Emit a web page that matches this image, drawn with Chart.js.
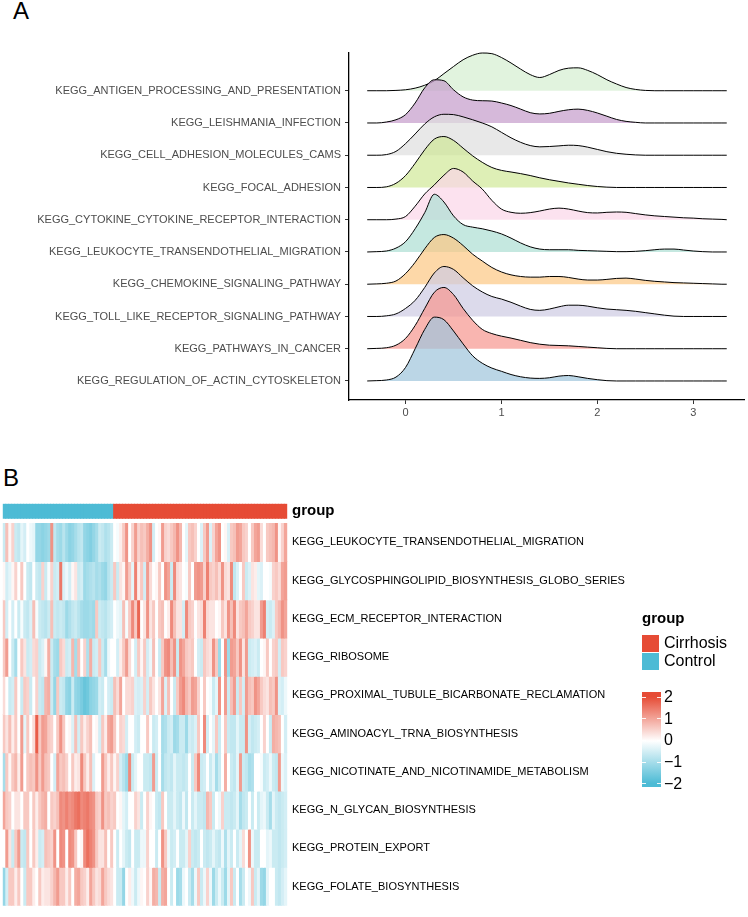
<!DOCTYPE html>
<html><head><meta charset="utf-8">
<script src="https://cdn.jsdelivr.net/npm/chart.js@4.4.1/dist/chart.umd.min.js"></script>
<style>
html,body{margin:0;padding:0;background:#fff;width:748px;height:917px;overflow:hidden;font-family:"Liberation Sans",Arial,sans-serif;}
.abs{position:absolute;white-space:nowrap;}
#wrapA{position:absolute;left:0;top:0;width:748px;height:440px;}
#wrapB{position:absolute;left:0;top:490px;width:748px;height:427px;}
</style></head>
<body>
<div class="abs" style="left:13px;top:-3px;font-size:24px;color:#000;">A</div>
<div class="abs" style="left:3px;top:464px;font-size:24px;color:#000;">B</div>
<div id="wrapA"><canvas id="cA" width="748" height="440"></canvas></div>
<div id="wrapB"><canvas id="cB" width="748" height="427"></canvas></div>

<!-- heatmap legends -->
<div class="abs" style="left:642px;top:609px;font-size:15px;font-weight:bold;color:#000;">group</div>
<div class="abs" style="left:642px;top:635px;width:17px;height:17px;background:#E64B35;"></div>
<div class="abs" style="left:642px;top:653px;width:17px;height:17px;background:#4DBBD5;"></div>
<div class="abs" style="left:664px;top:634px;font-size:16px;color:#000;line-height:18px;">Cirrhosis</div>
<div class="abs" style="left:664px;top:652px;font-size:16px;color:#000;line-height:18px;">Control</div>
<div class="abs" style="left:642px;top:692px;width:19px;height:95px;background:linear-gradient(to bottom,#E64B35 0%,#E64B35 5%,#ffffff 51.5%,#4DBBD5 96%,#4DBBD5 100%);"></div>
<div id="cbTicks"></div>

<script>
// ---------------- Panel A data ----------------
const ridgeCategories = [
  "KEGG_REGULATION_OF_ACTIN_CYTOSKELETON",
  "KEGG_PATHWAYS_IN_CANCER",
  "KEGG_TOLL_LIKE_RECEPTOR_SIGNALING_PATHWAY",
  "KEGG_CHEMOKINE_SIGNALING_PATHWAY",
  "KEGG_LEUKOCYTE_TRANSENDOTHELIAL_MIGRATION",
  "KEGG_CYTOKINE_CYTOKINE_RECEPTOR_INTERACTION",
  "KEGG_FOCAL_ADHESION",
  "KEGG_CELL_ADHESION_MOLECULES_CAMS",
  "KEGG_LEISHMANIA_INFECTION",
  "KEGG_ANTIGEN_PROCESSING_AND_PRESENTATION"
];
const ridgeX = [-0.4,-0.3,-0.2,-0.1,0,0.1,0.2,0.3,0.4,0.5,0.6,0.7,0.8,0.9,1.0,1.1,1.2,1.3,1.4,1.5,1.6,1.7,1.8,1.9,2.0,2.1,2.2,2.3,2.4,2.5,2.6,2.7,2.8,2.9,3.0,3.1,3.2,3.3,3.35];
const densRegulation = [0,0.01,0.03,0.12,0.42,1.0,1.6,1.98,1.9,1.55,1.15,0.78,0.55,0.4,0.3,0.2,0.13,0.09,0.08,0.1,0.15,0.17,0.13,0.08,0.04,0.01,0,0,0,0,0,0,0,0,0,0,0,0,0];
const densPathways = [0,0.01,0.03,0.11,0.32,0.72,1.25,1.75,1.9,1.68,1.25,0.88,0.6,0.47,0.39,0.33,0.26,0.19,0.14,0.11,0.1,0.09,0.07,0.05,0.03,0.01,0,0,0,0,0,0,0,0,0,0,0,0,0];
const densToll = [0,0,0.02,0.08,0.25,0.5,0.9,1.35,1.55,1.46,1.2,0.95,0.76,0.62,0.54,0.44,0.32,0.22,0.19,0.23,0.3,0.35,0.35,0.32,0.27,0.23,0.21,0.19,0.16,0.12,0.08,0.04,0.01,0,0,0,0,0,0];
const densChemokine = [0,0.01,0.03,0.1,0.33,0.68,1.1,1.45,1.54,1.43,1.2,0.93,0.72,0.52,0.38,0.29,0.24,0.22,0.22,0.24,0.24,0.21,0.16,0.13,0.13,0.15,0.18,0.19,0.16,0.12,0.09,0.07,0.05,0.04,0.03,0.02,0.01,0,0];
const densLeukocyte = [0,0.01,0.03,0.12,0.32,0.72,1.22,1.79,1.55,1.12,0.85,0.77,0.72,0.65,0.56,0.43,0.28,0.16,0.09,0.07,0.07,0.07,0.05,0.04,0.03,0.02,0.01,0.01,0.02,0.04,0.07,0.09,0.09,0.06,0.03,0.01,0,0,0];
const densCytokine = [0,0,0,0.02,0.1,0.42,0.8,1.08,1.38,1.59,1.48,1.2,0.95,0.6,0.33,0.23,0.2,0.22,0.27,0.33,0.36,0.33,0.27,0.22,0.21,0.23,0.24,0.23,0.19,0.15,0.12,0.1,0.08,0.06,0.05,0.03,0.02,0.01,0];
const densFocal = [0,0,0.02,0.13,0.37,0.75,1.17,1.5,1.58,1.46,1.22,0.98,0.78,0.62,0.53,0.48,0.43,0.37,0.3,0.24,0.19,0.14,0.1,0.06,0.03,0.01,0,0,0,0,0,0,0,0,0,0,0,0,0];
const densCellAdhesion = [0,0,0.02,0.12,0.36,0.66,0.97,1.19,1.27,1.26,1.19,1.1,1.0,0.88,0.71,0.54,0.4,0.3,0.26,0.27,0.29,0.31,0.3,0.25,0.18,0.11,0.06,0.03,0.01,0,0,0,0,0,0,0,0,0,0];
const densLeishmania = [0,0,0.03,0.1,0.26,0.62,1.09,1.34,1.31,1.03,0.81,0.71,0.69,0.68,0.62,0.54,0.43,0.32,0.28,0.3,0.36,0.41,0.43,0.39,0.31,0.21,0.11,0.05,0.02,0,0,0,0,0,0,0,0,0,0];
const densAntigen = [0,0,0,0.01,0.03,0.08,0.17,0.31,0.53,0.75,0.96,1.1,1.17,1.15,1.03,0.86,0.67,0.5,0.41,0.5,0.63,0.7,0.71,0.63,0.5,0.34,0.21,0.1,0.04,0.01,0,0,0,0,0,0,0,0,0];
const ridgeXTicks = [0,1,2,3];
const ridgeFills = [
  "rgba(158,196,220,0.7)","rgba(247,149,142,0.7)","rgba(205,202,226,0.7)","rgba(252,199,131,0.7)",
  "rgba(172,222,211,0.7)","rgba(251,214,232,0.7)","rgba(206,232,148,0.68)","rgba(222,222,222,0.7)",
  "rgba(196,155,202,0.7)","rgba(212,238,208,0.7)"
];

// ---------------- Panel B data ----------------
const heatRows = [
  "KEGG_LEUKOCYTE_TRANSENDOTHELIAL_MIGRATION",
  "KEGG_GLYCOSPHINGOLIPID_BIOSYNTHESIS_GLOBO_SERIES",
  "KEGG_ECM_RECEPTOR_INTERACTION",
  "KEGG_RIBOSOME",
  "KEGG_PROXIMAL_TUBULE_BICARBONATE_RECLAMATION",
  "KEGG_AMINOACYL_TRNA_BIOSYNTHESIS",
  "KEGG_NICOTINATE_AND_NICOTINAMIDE_METABOLISM",
  "KEGG_N_GLYCAN_BIOSYNTHESIS",
  "KEGG_PROTEIN_EXPORT",
  "KEGG_FOLATE_BIOSYNTHESIS"
];
const groupCounts = [["Control",37],["Cirrhosis",58]];
const rowLeukocyte = [-0.6,0.7,0.1,0.5,-0.6,-0.7,-0.3,-0.5,0.0,-0.2,-0.3,-1.2,-1.2,-1.3,-1.2,-1.1,1.2,-0.7,-1.0,-1.1,-0.8,-1.1,-1.3,-1.2,-1.0,-0.8,-0.7,-1.2,-1.3,-1.4,-1.2,-1.0,-0.6,-0.7,-0.9,-0.8,-0.6,
  0.0,-0.1,0.2,0.6,1.2,0.0,0.5,1.1,0.5,0.7,
  0.6,0.9,1.2,-0.5,0.0,0.1,1.1,0.5,0.4,0.6,0.8,1.2,0.8,0.0,-0.3,0.6,0.7,0.5,0.0,-0.4,0.6,1.1,-0.4,0.5,1.0,1.2,0.0,0.1,-0.4,0.6,0.7,1.1,1.0,0.6,0.5,0.0,0.6,1.0,1.1,0.4,0.0,0.6,0.7,0.8,1.2,0.1,0.5,1.0];
const rowGlyco = [0.1,-0.5,-0.3,0.1,0.5,0.0,0.6,0.0,-0.6,-0.7,0.0,-0.6,-0.7,0.5,-0.6,-0.1,0.5,-0.6,-0.5,1.5,-0.4,-0.2,-0.5,0.1,0.3,-0.6,-0.5,-1.1,-1.0,-0.9,-0.8,-1.0,-0.9,-1.1,-1.2,-0.8,-0.6,
  0.6,-0.6,0.3,0.1,1.1,0.6,-0.3,1.4,0.2,0.6,
  -0.5,1.1,0.4,0.0,0.1,0.6,0.0,1.2,1.0,-0.6,1.3,0.4,0.3,0.0,-0.1,0.6,0.0,1.1,1.2,1.1,0.5,1.4,0.6,0.5,0.7,0.4,1.2,0.4,0.3,1.3,-0.7,-0.4,0.0,0.6,-0.6,-0.4,0.3,0.2,-0.3,-0.4,0.0,0.0,-0.1,0.5,0.6,0.4,1.0,1.1];
const rowEcm = [0.6,-0.5,0.0,-0.5,0.0,-0.6,-0.1,-0.6,-0.7,-0.4,0.7,-0.1,-0.6,-0.7,-0.8,-0.6,0.7,-0.6,-0.7,-0.6,-0.7,-1.1,-0.9,-0.7,-0.6,-0.8,-1.0,-1.1,-1.1,-1.0,-1.1,0.6,-0.6,-0.7,-0.8,-0.6,-0.5,
  0.0,-0.2,-0.3,0.7,-0.1,0.6,1.3,0.6,1.7,0.0,
  0.3,1.2,0.3,0.6,0.0,0.6,0.7,0.0,0.2,1.3,0.7,0.3,0.3,-0.5,1.3,0.6,0.5,0.0,0.3,0.4,1.4,0.4,0.3,0.3,0.0,0.1,0.6,0.3,1.2,0.7,1.3,0.3,0.6,0.7,1.0,0.6,0.5,0.3,0.3,1.1,1.4,-0.5,-0.6,-0.4,0.6,0.8,1.2,1.0];
const rowRibosome = [0.6,1.1,0.0,-0.6,-1.0,0.0,0.6,0.3,-0.6,-0.5,0.4,0.5,-0.6,-0.4,0.1,0.9,-0.6,-1.0,-1.1,0.6,0.4,-0.6,-0.5,0.8,-1.0,0.7,0.0,0.5,-0.9,0.9,-0.6,-0.5,0.6,-0.6,-1.0,-0.2,0.0,
  0.0,-0.5,0.2,0.6,1.1,0.4,0.0,-0.5,0.6,0.1,
  0.6,-0.5,-0.2,0.7,0.0,-0.6,0.6,1.2,1.3,0.7,1.2,-0.6,1.2,1.0,0.6,0.5,0.6,0.0,-0.5,-0.6,0.6,0.4,0.3,1.2,0.6,-1.1,0.0,1.2,-1.1,1.1,1.0,0.6,1.2,0.3,1.1,-0.6,-0.5,-0.4,-0.6,0.0,0.1,0.6,0.0,0.5,0.6,-0.5,0.6,0.5];
const rowProximal = [0.4,0.0,-0.6,-0.5,0.6,0.0,-0.6,0.6,0.5,-0.6,0.0,0.5,-0.6,-0.7,0.8,0.9,-0.6,-1.2,0.6,-0.6,-0.7,-1.2,-1.3,-0.6,-1.2,-1.3,-1.5,-1.7,-1.6,-1.3,-1.2,-1.1,-0.5,-0.6,0.0,-0.5,-0.6,
  0.7,0.4,1.0,0.0,0.4,0.4,0.5,-0.4,-0.5,-0.4,
  0.5,-0.5,0.6,0.3,0.0,0.3,1.0,-0.4,0.7,0.0,-0.6,0.6,1.1,1.3,0.8,0.6,1.1,1.0,0.5,0.0,0.6,0.0,-0.1,-0.6,-0.3,1.2,0.0,1.1,-0.6,0.7,1.1,-0.6,0.6,-0.5,1.1,0.7,0.6,1.2,1.0,0.6,0.4,0.3,0.7,0.6,1.2,-0.4,-0.5,-0.2];
const rowAminoacyl = [0.6,0.3,0.7,0.2,0.6,0.0,1.1,-0.3,0.6,0.0,0.4,1.8,0.6,1.1,1.0,0.6,0.5,0.0,0.6,1.2,0.6,0.0,0.1,-0.4,0.7,-0.5,0.6,0.2,0.5,0.7,0.0,0.1,-0.5,0.6,0.2,1.0,1.1,
  0.6,0.0,0.5,0.4,-0.5,0.0,0.0,-0.5,-0.6,0.0,
  0.0,0.6,0.0,-0.6,-0.5,0.0,-1.0,-0.9,-0.6,-0.5,-1.1,-1.0,-0.6,-0.6,-1.1,-0.5,-0.6,-0.4,0.6,0.0,1.3,-0.5,0.0,-0.3,0.6,-0.6,0.0,0.6,-0.6,-0.7,-0.7,-0.3,-0.6,-0.6,1.2,-0.5,-0.7,-0.6,-0.5,0.0,0.5,0.0,-0.6,0.9,0.8,0.7,0.0,-0.5];
const rowNicotinate = [-1.0,0.6,0.1,0.6,0.8,0.2,1.1,0.0,0.6,0.7,0.6,1.2,0.6,1.1,0.7,0.6,0.0,-0.5,1.0,0.6,0.7,0.5,0.0,0.6,0.2,0.3,1.3,0.6,0.2,0.7,-0.4,0.0,0.0,1.1,0.6,0.2,0.6,
  0.1,0.5,-0.5,-0.8,-1.1,1.3,-0.6,-0.3,0.0,0.0,
  -0.6,-0.6,-0.7,1.1,-0.6,0.0,-1.0,-0.7,-0.6,-0.7,-0.3,-0.6,-0.6,-0.7,-0.6,0.0,-0.6,0.6,1.3,-0.6,-0.5,0.0,-0.6,-0.3,-1.0,-0.6,0.0,0.9,0.0,-0.6,-0.7,-0.3,1.1,-0.6,-0.7,-1.0,-0.9,0.0,0.0,-0.1,-0.6,-0.5,-0.2,-0.6,-0.7,1.1,-0.2,-0.4];
const rowNGlycan = [1.0,0.6,0.5,0.0,0.3,0.3,0.0,0.6,0.6,0.0,0.6,0.2,0.6,0.8,0.9,0.0,0.6,0.5,0.7,1.3,1.2,1.4,1.2,1.3,1.5,1.6,1.3,1.4,1.5,1.3,1.2,0.6,0.5,1.2,0.6,0.7,0.5,
  0.6,0.0,0.1,-0.3,-0.5,0.0,0.0,0.5,0.3,-0.6,
  0.0,0.5,0.1,0.0,-0.6,-0.7,0.6,0.0,-0.6,-0.6,-0.3,-0.6,-0.7,-0.2,-0.7,0.0,-0.6,-0.3,-0.6,-0.6,-0.7,0.8,0.6,-0.6,0.0,-0.2,0.5,-0.6,-0.6,-0.7,-0.6,-0.3,-1.0,-0.7,-0.6,0.0,-0.6,0.0,-0.6,-0.3,-0.2,-0.6,-1.0,-0.3,-0.6,-0.7,-0.6,-0.5];
const rowProteinExport = [0.0,1.1,0.3,-0.6,0.6,1.1,-0.6,-0.7,0.6,0.0,0.6,0.2,-0.6,-0.5,0.7,0.6,0.5,1.2,0.0,1.3,1.2,0.0,1.3,1.2,0.6,0.0,0.1,1.3,1.6,1.4,1.2,0.6,0.3,0.3,0.7,0.0,0.6,
  0.0,-0.6,0.0,-0.3,-0.6,-0.7,0.0,-0.6,-0.6,-0.2,
  -0.2,0.5,0.0,0.0,-0.6,0.0,1.2,0.6,-0.2,-0.6,-0.5,0.0,-0.6,-0.6,-0.3,0.5,-0.6,-0.7,-0.6,0.0,-0.6,-0.7,-0.6,-0.3,-0.6,-0.7,-0.2,-0.9,-0.3,-0.6,0.0,-0.6,-0.3,0.4,0.0,1.2,-0.2,-0.6,-0.6,0.0,0.0,-0.3,-0.2,-0.6,-0.6,-0.7,-0.6,-0.5];
const rowFolate = [-1.2,-0.5,0.6,0.6,0.2,0.6,0.0,-0.6,0.6,0.6,0.2,0.0,0.6,0.2,0.3,0.3,0.5,0.8,1.1,0.6,0.6,0.2,0.6,0.0,0.9,1.0,0.6,0.5,0.2,1.0,0.6,0.3,0.4,1.0,0.6,0.4,0.3,
  0.0,-0.6,-0.6,-1.2,0.0,0.2,-0.2,-0.6,-0.2,0.1,
  0.0,0.5,0.1,0.9,0.8,-0.6,0.9,1.0,0.0,-0.6,0.0,-1.1,-1.0,-0.2,0.0,-0.6,-1.0,-0.2,0.6,-0.6,-0.2,0.5,-0.2,-1.1,-0.6,-0.2,-0.6,-1.1,-0.3,0.6,-0.6,0.0,-1.0,-0.6,0.0,-0.2,0.6,-0.6,-0.3,-1.1,-1.2,-0.3,0.0,0.0,-0.6,-0.7,-0.5,-0.3];
const colorbarTicks = [2,1,0,-1,-2];

// ---------------- Common ----------------
Chart.defaults.font.family = '"Liberation Sans", Arial, sans-serif';
Chart.defaults.animation = false;

// ---------------- Panel A chart ----------------
const ridgeDensities = [densRegulation,densPathways,densToll,densChemokine,densLeukocyte,densCytokine,densFocal,densCellAdhesion,densLeishmania,densAntigen];
const ridgeDatasets = ridgeDensities.map((dens, i) => ({
  label: ridgeCategories[i],
  data: ridgeX.map((x, j) => ({x: x, y: (i + 1) + dens[j]})),
  borderColor: '#000',
  borderWidth: 1,
  backgroundColor: ridgeFills[i],
  fill: {target: {value: i + 1}},
  pointRadius: 0,
  cubicInterpolationMode: 'monotone',
  clip: false
}));

new Chart(document.getElementById('cA'), {
  type: 'line',
  data: {datasets: ridgeDatasets},
  options: {
    responsive: false,
    animation: false,
    layout: {padding: {top: 53, right: 4, left: 0, bottom: 0}},
    plugins: {legend: {display: false}, tooltip: {enabled: false}, filler: {drawTime: 'beforeDatasetDraw'}},
    scales: {
      x: {
        type: 'linear', min: -0.59, max: 3.53,
        afterBuildTicks: s => { s.ticks = ridgeXTicks.map(v => ({value: v})); },
        afterFit: s => { s.height = 40; },
        grid: {drawOnChartArea: false, drawTicks: true, tickLength: 4, color: '#333'},
        border: {display: true, color: '#000', width: 1.3},
        ticks: {color: '#4D4D4D', font: {size: 11}, padding: 2, callback: v => String(v)}
      },
      y: {
        type: 'linear', min: 0.41, max: 11.17,
        afterBuildTicks: s => { s.ticks = ridgeCategories.map((c, i) => ({value: i + 1})); },
        afterFit: s => { s.width = 349; },
        grid: {drawOnChartArea: false, drawTicks: true, tickLength: 4, color: '#333'},
        border: {display: true, color: '#000', width: 1.3},
        ticks: {color: '#4D4D4D', font: {size: 11}, padding: 4, autoSkip: false,
          callback: v => ridgeCategories[Math.round(v) - 1]}
      }
    }
  }
});

// ---------------- Panel B chart ----------------
const groups = [];
groupCounts.forEach(([g, n]) => { for (let k = 0; k < n; k++) groups.push(g); });
const sampleIds = groups.map((g, i) => 'S' + (i + 1));
const heatValues = [rowLeukocyte,rowGlyco,rowEcm,rowRibosome,rowProximal,rowAminoacyl,rowNicotinate,rowNGlycan,rowProteinExport,rowFolate];
const LOW = [77,187,213], HIGH = [230,75,53];
function heatColor(v) {
  const t = Math.max(-2, Math.min(2, v)) / 2;
  const c = t >= 0 ? HIGH : LOW, a = Math.abs(t);
  return 'rgb(' + c.map(ch => Math.round(255 + (ch - 255) * a)).join(',') + ')';
}
const ANN_LO = 10.128, ANN_HI = 10.513;
const heatDatasets = heatValues.map((vals, i) => ({
  label: heatRows[i],
  data: vals.map(() => [9 - i, 10 - i]),
  backgroundColor: vals.map(heatColor),
  borderWidth: 0,
  grouped: false,
  barPercentage: 1,
  categoryPercentage: 1,
  inflateAmount: 0.4
}));
heatDatasets.push({
  label: 'group',
  data: groups.map(() => [ANN_LO, ANN_HI]),
  backgroundColor: groups.map(g => g === 'Control' ? '#4DBBD5' : '#E64B35'),
  borderWidth: 0, grouped: false, barPercentage: 1, categoryPercentage: 1, inflateAmount: 0.4
});
const heatTickVals = [0.5,1.5,2.5,3.5,4.5,5.5,6.5,7.5,8.5,9.5,(ANN_LO + ANN_HI) / 2];
new Chart(document.getElementById('cB'), {
  type: 'bar',
  data: {labels: sampleIds, datasets: heatDatasets},
  options: {
    responsive: false,
    animation: false,
    layout: {padding: {top: 13.3, right: 0, left: 2.7, bottom: 3.7}},
    plugins: {legend: {display: false}, tooltip: {enabled: false}},
    scales: {
      x: {display: false, offset: true, grid: {display: false}},
      y: {
        type: 'linear', position: 'right', min: 0, max: ANN_HI,
        afterBuildTicks: s => { s.ticks = heatTickVals.map(v => ({value: v})); },
        afterFit: s => { s.width = 748 - 287.3; },
        grid: {display: false, drawTicks: false, tickLength: 0}, border: {display: false},
        ticks: {
          color: '#000', padding: 4.7, autoSkip: false,
          font: ctx => (ctx.tick && ctx.tick.value > 10) ? {size: 15, weight: 'bold'} : {size: 11},
          callback: v => v > 10 ? 'group' : heatRows[Math.round(9.5 - v)]
        }
      }
    }
  }
});

// colorbar tick labels and white tick marks
const cbPxPerUnit = 21.65, cbZeroY = 740.4;
const cbHolder = document.getElementById('cbTicks');
colorbarTicks.forEach(v => {
  const y = cbZeroY - v * cbPxPerUnit;
  const lab = document.createElement('div');
  lab.className = 'abs';
  lab.style.cssText = 'left:664px;top:' + (y - 9) + 'px;font-size:16px;line-height:18px;color:#000;';
  lab.textContent = v < 0 ? '\u2212' + Math.abs(v) : String(v);
  cbHolder.appendChild(lab);
  ['642px', '657px'].forEach(x => {
    const t = document.createElement('div');
    t.className = 'abs';
    t.style.cssText = 'left:' + x + ';top:' + (y - 0.5) + 'px;width:4px;height:1px;background:rgba(255,255,255,0.9);';
    cbHolder.appendChild(t);
  });
});
</script>
</body></html>
